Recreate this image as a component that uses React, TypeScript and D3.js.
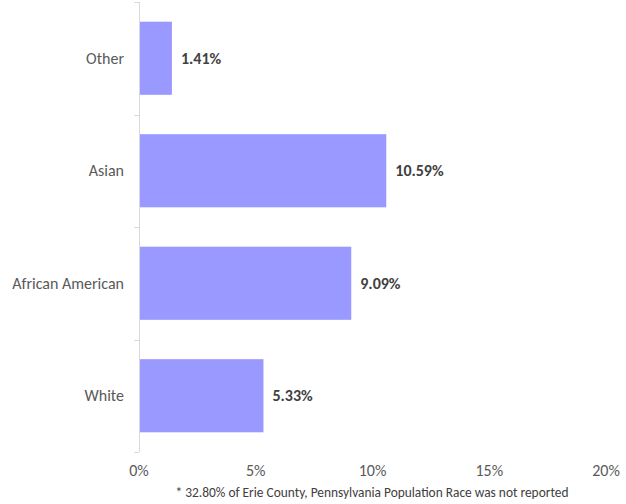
import React, { useEffect, useRef } from "react";
import * as d3 from "d3";

const categories = ["Other", "Asian", "African American", "White"];
const values = [1.41, 10.59, 9.09, 5.33];
const xTicks = [0, 5, 10, 15, 20];
const footnote = "* 32.80% of Erie County, Pennsylvania Population Race was not reported";

const width = 626;
const height = 504;
const left = 139;
const right = 606;
const top = 2;
const bottom = 452;
const font = "Carlito, Calibri, 'Open Sans', sans-serif";

const App: React.FC = () => {
  const svgRef = useRef<SVGSVGElement | null>(null);

  useEffect(() => {
    const svg = d3.select(svgRef.current);
    svg.selectAll("*").remove();

    const x = d3.scaleLinear().domain([0, 20]).range([left, right]);
    const y = d3
      .scaleBand()
      .domain(categories)
      .range([top, bottom])
      .paddingInner(0.35)
      .paddingOuter(0.175);

    const step = (bottom - top) / categories.length;

    // y axis line + boundary ticks
    const axis = svg.append("g").attr("stroke", "#d9d9d9").attr("stroke-width", 1);
    axis
      .append("line")
      .attr("x1", left + 0.5)
      .attr("x2", left + 0.5)
      .attr("y1", top)
      .attr("y2", bottom);
    d3.range(categories.length + 1).forEach((i) => {
      const yy = Math.round(top + i * step) + 0.5;
      axis
        .append("line")
        .attr("x1", left - 5)
        .attr("x2", left)
        .attr("y1", yy)
        .attr("y2", yy);
    });

    const data = categories.map((c, i) => ({ name: c, value: values[i] }));

    svg
      .selectAll(".bar")
      .data(data)
      .enter()
      .append("rect")
      .attr("x", left + 1)
      .attr("y", (d) => y(d.name) as number)
      .attr("width", (d) => x(d.value) - left - 1)
      .attr("height", y.bandwidth())
      .attr("fill", "#9999ff");

    svg
      .selectAll(".val")
      .data(data)
      .enter()
      .append("text")
      .text((d) => `${d.value.toFixed(2)}%`)
      .attr("x", (d) => x(d.value) + 9)
      .attr("y", (d) => (y(d.name) as number) + y.bandwidth() / 2)
      .attr("dy", "0.35em")
      .attr("font-family", font)
      .attr("font-size", "16px")
      .attr("font-weight", "bold")
      .attr("fill", "#404040");

    svg
      .selectAll(".cat")
      .data(categories)
      .enter()
      .append("text")
      .text((d) => d)
      .attr("x", left - 15)
      .attr("y", (d) => (y(d) as number) + y.bandwidth() / 2)
      .attr("dy", "0.35em")
      .attr("text-anchor", "end")
      .attr("font-family", font)
      .attr("font-size", "16px")
      .attr("fill", "#595959");

    svg
      .selectAll(".xt")
      .data(xTicks)
      .enter()
      .append("text")
      .text((d) => `${d}%`)
      .attr("x", (d) => x(d))
      .attr("y", 476)
      .attr("text-anchor", "middle")
      .attr("font-family", font)
      .attr("font-size", "16px")
      .attr("fill", "#595959");

    svg
      .append("text")
      .text(footnote)
      .attr("x", 372)
      .attr("y", 497)
      .attr("text-anchor", "middle")
      .attr("font-family", font)
      .attr("font-size", "13.4px")
      .attr("fill", "#404040");
  }, []);

  return (
    <svg
      ref={svgRef}
      width={width}
      height={height}
      style={{ position: "absolute", left: 0, top: 0, background: "#fff" }}
    ></svg>
  );
};

export default App;
